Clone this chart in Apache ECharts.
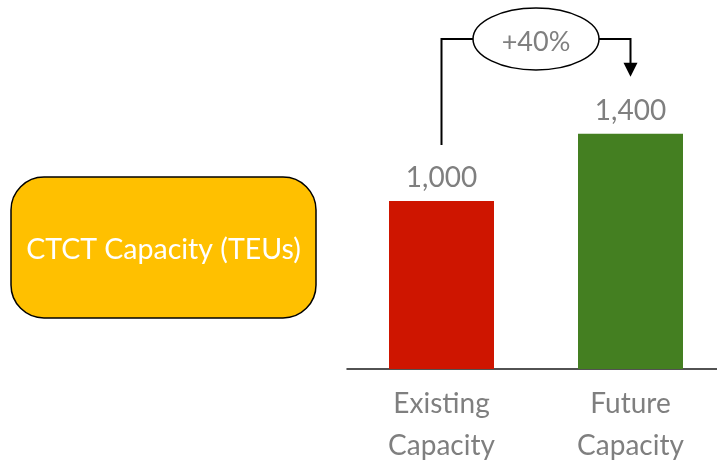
<!DOCTYPE html>
<html>
<head>
<meta charset="utf-8">
<script src="https://cdn.jsdelivr.net/npm/echarts@6/dist/echarts.min.js"></script>
<style>html,body{margin:0;padding:0;background:#fff;}#c{width:717px;height:460px;}</style>
</head>
<body>
<div id="c"></div>
<script>
var categories = ['Existing\nCapacity', 'Future\nCapacity'];
var values = [1000, 1400];
var barColors = ['#CE1500', '#447F21'];
var boxTitle = 'CTCT Capacity (TEUs)';

var FONT = 'Lato';
var chart = echarts.init(document.getElementById('c'), null, {renderer: 'canvas'});
var fmt = function (v) { return v.toLocaleString('en-US'); };

chart.setOption({
  animation: false,
  backgroundColor: '#ffffff',
  grid: {left: 347, width: 378, top: 33, bottom: 91, containLabel: false, outerBoundsMode: 'none'},
  xAxis: {
    type: 'category',
    data: categories,
    axisLine: {show: true, lineStyle: {color: '#1a1a1a', width: 1.5}},
    axisTick: {show: false},
    axisLabel: {color: '#7f7f7f', fontFamily: FONT, fontSize: 28, lineHeight: 42, margin: 14, interval: 0}
  },
  yAxis: {type: 'value', min: 0, max: 2000, show: false, splitLine: {show: false}},
  series: [{
    type: 'bar',
    barWidth: 105,
    data: values.map(function (v, i) { return {value: v, itemStyle: {color: barColors[i]}}; }),
    label: {show: true, position: 'top', distance: 9, color: '#7f7f7f', fontFamily: FONT, fontSize: 28,
            formatter: function (p) { return fmt(p.value); }}
  }]
});

var p0 = chart.convertToPixel({gridIndex: 0}, [0, values[0]]);
var p1 = chart.convertToPixel({gridIndex: 0}, [1, values[1]]);
var lineY = 39;
var startY = p0[1] - 56;
var endY = p1[1] - 57;
var cx = (p0[0] + p1[0]) / 2;
var rx = 63, ry = 31;
var pct = '+' + Math.round((values[1] - values[0]) / values[0] * 100) + '%';

chart.setOption({
  graphic: [
    {type: 'rect', shape: {x: 11, y: 177, width: 305, height: 141, r: 33},
     style: {fill: '#FFC000', stroke: '#000', lineWidth: 1.5}},
    {type: 'text', x: 163.5, y: 250, style: {text: boxTitle, fill: '#ffffff', font: '28.5px ' + FONT, textAlign: 'center', textVerticalAlign: 'middle'}},
    {type: 'polyline', shape: {points: [[p0[0], startY], [p0[0], lineY], [cx - rx, lineY]]}, style: {stroke: '#000', lineWidth: 2, fill: null}},
    {type: 'polyline', shape: {points: [[cx + rx, lineY], [p1[0], lineY], [p1[0], endY - 12]]}, style: {stroke: '#000', lineWidth: 2, fill: null}},
    {type: 'polygon', shape: {points: [[p1[0] - 7, endY - 14], [p1[0] + 7, endY - 14], [p1[0], endY]]}, style: {fill: '#000'}},
    {type: 'ellipse', shape: {cx: cx, cy: lineY, rx: rx, ry: ry}, style: {fill: '#fff', stroke: '#000', lineWidth: 1.5}},
    {type: 'text', x: cx, y: lineY + 3, style: {text: pct, fill: '#7f7f7f', font: '27px ' + FONT, textAlign: 'center', textVerticalAlign: 'middle'}}
  ]
});
</script>
</body>
</html>
